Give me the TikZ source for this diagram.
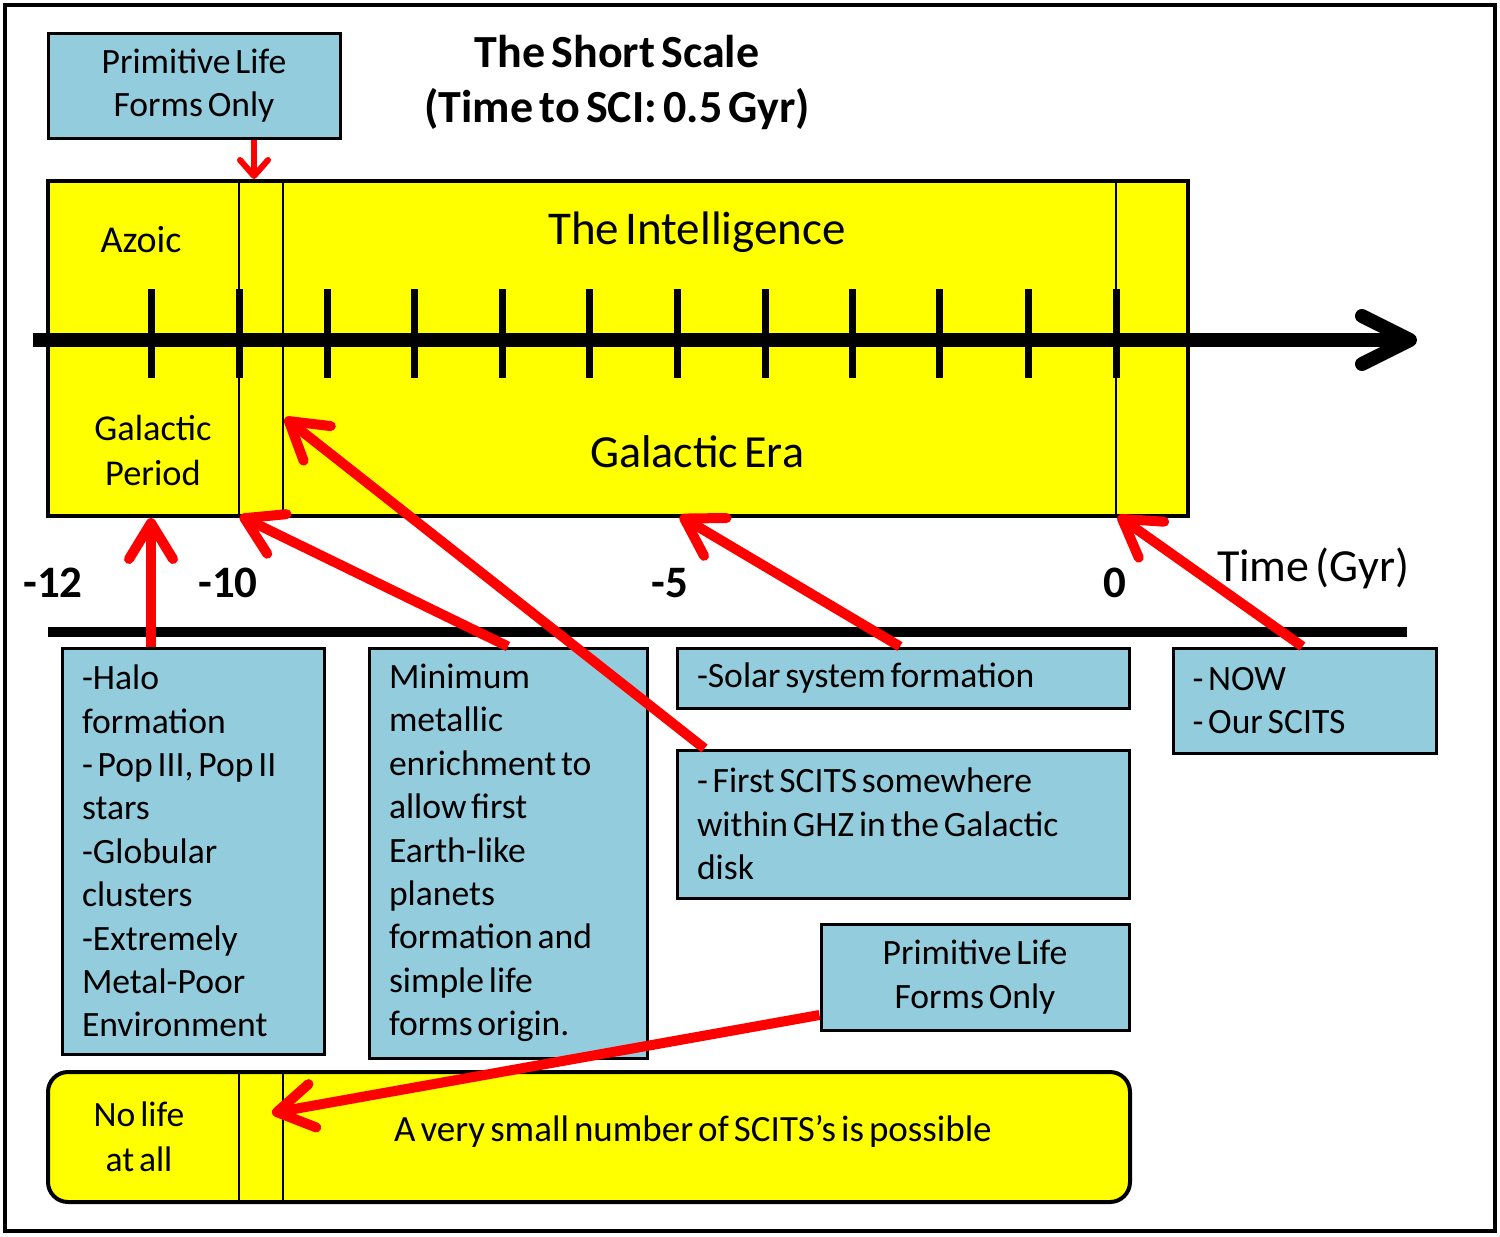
\documentclass[tikz,border=0pt]{standalone}
\usepackage{fontspec}
\setmainfont{Carlito}[WordSpace=0.6]
\usetikzlibrary{arrows.meta}
\definecolor{boxblue}{RGB}{147,205,221}
\definecolor{pureyellow}{RGB}{255,255,0}
\newcommand\boxfont{\fontsize{17.8}{21.7}\selectfont}
\begin{document}
\begin{tikzpicture}[x=0.5pt,y=-0.5pt,
  bluebox/.style={draw=black, line width=1.5pt, fill=boxblue, font=\boxfont, inner xsep=10pt, inner ysep=0pt},
  yellowbox/.style={draw=black, line width=2pt, fill=pureyellow, inner sep=0pt},
  thinline/.style={draw=black, line width=1pt},
  tickmark/.style={draw=black, line width=3.5pt},
  axisline/.style={draw=black, line width=7pt, -{Straight Barb[length=24pt,width=24pt,round]}},
  redarrow/.style={draw=red, line width=5pt, -{Straight Barb[length=18pt,width=22pt,round]}},
  smallred/.style={draw=red, line width=3pt, -{Straight Barb[length=8pt,width=14pt,round]}},
  lbl/.style={inner sep=0pt, font=\boxfont},
  numlbl/.style={inner sep=0pt, font=\bfseries\fontsize{22.5}{26}\selectfont}
]
\useasboundingbox (0,0) rectangle (1500,1237);
\fill[white] (0,0) rectangle (1500,1237);
\draw[line width=2pt] (4.5,4.5) rectangle (1495,1231);

% title
\node[inner sep=0pt, align=center, font=\bfseries\fontsize{23}{27.5}\selectfont] (title) at (617,82) {The Short Scale\\(Time to SCI: 0.5 Gyr)};

% top box
\node[bluebox, text width=126pt, align=flush center, minimum height=52.5pt] (toplife) at (194,85.5) {Primitive Life\\Forms Only};

% big yellow box
\node[yellowbox, minimum width=570pt, minimum height=167.5pt] (era) at (618,348.5) {};
\foreach \x in {239,283,1116} \draw[thinline] (\x,181) -- (\x,516);

% axis
\foreach \x in {151,239,327,414,502,589,677,765,852,939,1028,1116} \draw[tickmark] (\x,289) -- (\x,378);
\coordinate (axstart) at (33,340);
\coordinate (axend) at (1417,340);
\draw[axisline] (axstart) -- (axend);

% labels in big box
\node[lbl, font=\fontsize{19}{23}\selectfont] (azoic) at (141,240) {Azoic};
\node[lbl, font=\fontsize{23.5}{27}\selectfont] (intel) at (697,232) {The Intelligence};
\node[lbl, align=center, font=\fontsize{18.2}{22.5}\selectfont] (galper) at (153,450) {Galactic\\Period};
\node[lbl, font=\fontsize{23}{27}\selectfont] (galera) at (697,452) {Galactic Era};

% axis numbers
\node[numlbl] (n12) at (53,583) {-12};
\node[numlbl] (n10) at (228,583) {-10};
\node[numlbl] (n5) at (670,583) {-5};
\node[numlbl] (n0) at (1115,583) {0};
\node[lbl, font=\fontsize{23}{27}\selectfont] (timelbl) at (1313,568) {Time (Gyr)};

% lower line
\draw[line width=5pt] (48,632) -- (1407,632);

% blue boxes
\node[bluebox, text width=111pt, align=flush left, minimum height=203pt] (box1) at (193,851) {-Halo\\formation\\- Pop III, Pop II\\stars\\-Globular\\clusters\\-Extremely\\Metal-Poor\\Environment};
\node[bluebox, text width=119pt, align=flush left, minimum height=205pt] (box2) at (508,853) {Minimum\\metallic\\enrichment to\\allow first\\Earth-like\\planets\\formation and\\simple life\\forms origin.};
\node[bluebox, text width=206pt, align=flush left, minimum height=30pt] (box3) at (903,678) {-Solar system formation};
\node[bluebox, text width=112pt, inner xsep=9.75pt, align=flush left, minimum height=52.5pt] (box4) at (1304.5,700.5) {- NOW\\- Our SCITS};
\node[bluebox, text width=206pt, align=flush left, minimum height=74pt] (box5) at (903,824) {- First SCITS somewhere\\within GHZ in the Galactic\\disk};
\node[bluebox, text width=134pt, align=flush center, minimum height=53pt] (box6) at (975,977) {Primitive Life\\Forms Only};

% bottom bar
\node[yellowbox, rounded corners=10pt, minimum width=541pt, minimum height=65pt] (bar) at (589,1137) {};
\foreach \x in {239,283} \draw[thinline] (\x,1072) -- (\x,1202);
\node[lbl, align=center, font=\fontsize{17.8}{22.5}\selectfont] (nolife) at (139,1137) {No life\\at all};
\node[lbl, font=\fontsize{18.5}{22}\selectfont] (small) at (693,1131) {A very small number of SCITS’s is possible};

% arrow targets
\coordinate (tA) at (254,179);
\coordinate (tB) at (151,518);
\coordinate (tC) at (240,516);
\coordinate (tD) at (285,418);
\coordinate (tE) at (680,516);
\coordinate (tF) at (1118,516);
\coordinate (tG) at (272,1113);

% red arrows
\draw[smallred] ([xshift=30pt]toplife.south) -- (tA);
\draw[redarrow] ([xshift=-21pt]box1.north) -- (tB);
\draw[redarrow] (box2.north) -- (tC);
\draw[redarrow] ([xshift=14.5pt]box5.north west) -- (tD);
\draw[redarrow] ([xshift=-1.5pt]box3.north) -- (tE);
\draw[redarrow] ([xshift=-1pt]box4.north) -- (tF);
\draw[redarrow] ([yshift=-19pt]box6.west) -- (tG);
\end{tikzpicture}
\end{document}
